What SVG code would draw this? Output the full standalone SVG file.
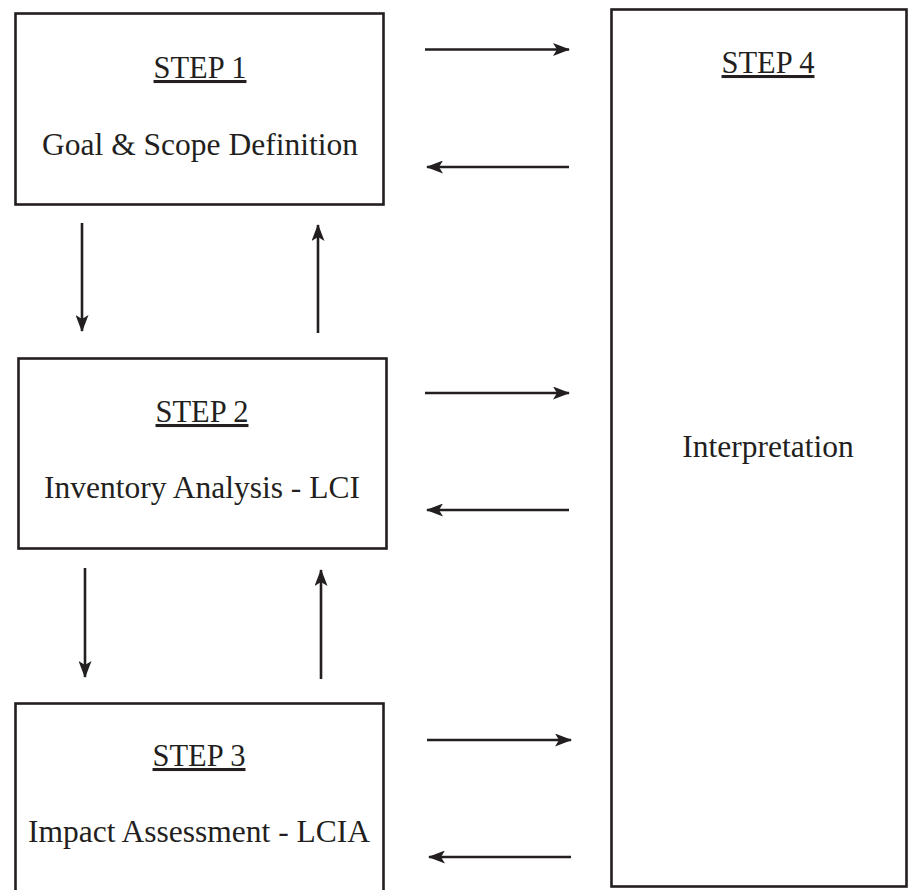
<svg xmlns="http://www.w3.org/2000/svg" width="918" height="890" viewBox="0 0 918 890">
  <style>
    .box { fill: #ffffff; stroke: #231f20; stroke-width: 2.6; }
    .lbl { font-family: "Liberation Serif", "DejaVu Serif", serif; font-size: 31.5px; fill: #231f20; text-anchor: middle; }
    .step { font-size: 30.5px; text-decoration: underline; }
    .conn line { stroke: #231f20; stroke-width: 2.6; marker-end: url(#head); }
  </style>
  <defs>
    <marker id="head" viewBox="0 0 17 13" refX="16" refY="6.5" markerWidth="17" markerHeight="13" markerUnits="userSpaceOnUse" orient="auto">
      <path d="M0,0 L17,6.5 L0,13 L4,6.5 Z" fill="#231f20"/>
    </marker>
  </defs>
  <rect width="918" height="890" fill="#ffffff"/>

  <g id="step1">
    <rect class="box" x="15.5" y="13.5" width="368" height="191"/>
    <text class="lbl step" x="200" y="78">STEP 1</text>
    <text class="lbl" x="200" y="155">Goal &amp; Scope Definition</text>
  </g>

  <g id="step2">
    <rect class="box" x="18.5" y="358.5" width="368" height="190"/>
    <text class="lbl step" x="202" y="422">STEP 2</text>
    <text class="lbl" x="202" y="498">Inventory Analysis - LCI</text>
  </g>

  <g id="step3">
    <rect class="box" x="15.5" y="703.5" width="368" height="200"/>
    <text class="lbl step" x="199" y="766">STEP 3</text>
    <text class="lbl" x="199" y="842">Impact Assessment - LCIA</text>
  </g>

  <g id="step4">
    <rect class="box" x="611.5" y="9.5" width="295" height="877"/>
    <text class="lbl step" x="768" y="73">STEP 4</text>
    <text class="lbl" x="768" y="457">Interpretation</text>
  </g>

  <g id="connectors" class="conn">
    <line x1="425" y1="49.5" x2="569" y2="49.5"/>
    <line x1="569" y1="167" x2="427" y2="167"/>
    <line x1="425" y1="393" x2="569" y2="393"/>
    <line x1="569" y1="510" x2="427" y2="510"/>
    <line x1="427" y1="740" x2="571" y2="740"/>
    <line x1="571" y1="857" x2="429" y2="857"/>
    <line x1="82" y1="223" x2="82" y2="331"/>
    <line x1="318" y1="333" x2="318" y2="225"/>
    <line x1="85" y1="568" x2="85" y2="677"/>
    <line x1="321" y1="679" x2="321" y2="570"/>
  </g>
</svg>
